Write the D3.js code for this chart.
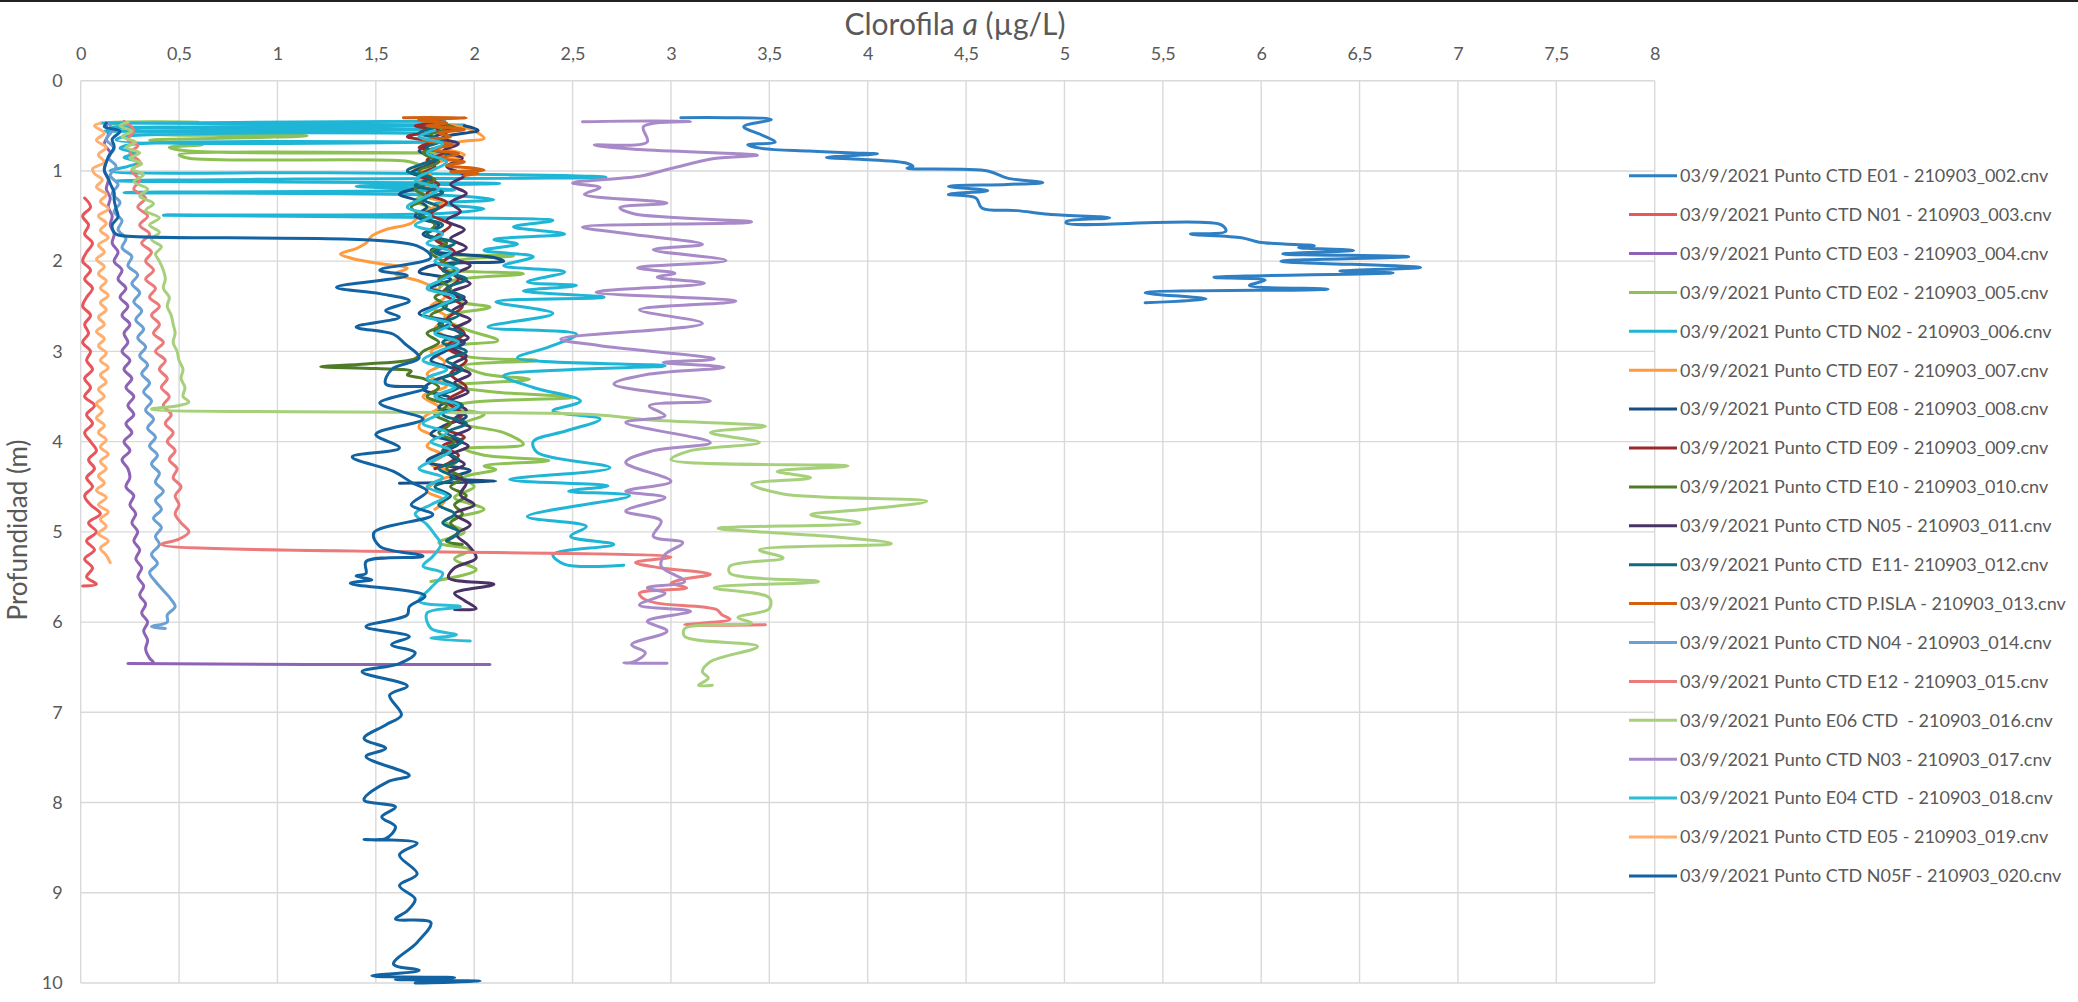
<!DOCTYPE html>
<html>
<head>
<meta charset="utf-8">
<script src="https://cdn.jsdelivr.net/npm/d3@7"></script>
<style>
  html, body { margin: 0; padding: 0; background: #fff; }
  svg { display: block; font-family: Lato, "Open Sans", sans-serif; }
  .legend text { white-space: pre; }
</style>
</head>
<body>
<svg id="chart" width="2078" height="1002"></svg>
<script>
// Tick values for both axes (depth axis is reversed, 0 at the top)
const xTickValues = [0, 0.5, 1, 1.5, 2, 2.5, 3, 3.5, 4, 4.5, 5, 5.5, 6, 6.5, 7, 7.5, 8];
const yTickValues = [0, 1, 2, 3, 4, 5, 6, 7, 8, 9, 10];

// Legend labels, one per CTD cast
const seriesNames = [
  "03/9/2021 Punto CTD E01 - 210903_002.cnv",
  "03/9/2021 Punto CTD N01 - 210903_003.cnv",
  "03/9/2021 Punto CTD E03 - 210903_004.cnv",
  "03/9/2021 Punto CTD E02 - 210903_005.cnv",
  "03/9/2021 Punto CTD N02 - 210903_006.cnv",
  "03/9/2021 Punto CTD E07 - 210903_007.cnv",
  "03/9/2021 Punto CTD E08 - 210903_008.cnv",
  "03/9/2021 Punto CTD E09 - 210903_009.cnv",
  "03/9/2021 Punto CTD E10 - 210903_010.cnv",
  "03/9/2021 Punto CTD N05 - 210903_011.cnv",
  "03/9/2021 Punto CTD  E11- 210903_012.cnv",
  "03/9/2021 Punto CTD P.ISLA - 210903_013.cnv",
  "03/9/2021 Punto CTD N04 - 210903_014.cnv",
  "03/9/2021 Punto CTD E12 - 210903_015.cnv",
  "03/9/2021 Punto E06 CTD  - 210903_016.cnv",
  "03/9/2021 Punto CTD N03 - 210903_017.cnv",
  "03/9/2021 Punto E04 CTD  - 210903_018.cnv",
  "03/9/2021 Punto CTD E05 - 210903_019.cnv",
  "03/9/2021 Punto CTD N05F - 210903_020.cnv"
];

// Profiles: [depth (m), chlorophyll a (µg/L)] in cast order
const e01 = [[0.41,3.05],[0.41,3.28],[0.43,3.51],[0.51,3.37],[0.60,3.46],[0.68,3.53],[0.71,3.39],[0.75,3.46],[0.78,3.70],[0.80,3.93],[0.81,4.05],[0.85,3.79],[0.87,3.96],[0.91,4.19],[0.95,4.23],[0.97,4.20],[1.00,4.61],[1.08,4.71],[1.13,4.89],[1.15,4.71],[1.17,4.41],[1.22,4.61],[1.26,4.41],[1.30,4.55],[1.41,4.58],[1.44,4.76],[1.48,4.92],[1.52,5.23],[1.56,5.01],[1.58,5.01],[1.60,5.80],[1.67,5.82],[1.70,5.64],[1.74,5.90],[1.79,5.99],[1.83,6.27],[1.85,6.19],[1.88,6.47],[1.92,6.11],[1.95,6.75],[2.00,6.10],[2.07,6.81],[2.11,6.40],[2.13,6.67],[2.18,5.76],[2.21,6.02],[2.27,5.94],[2.31,6.34],[2.35,5.41],[2.42,5.72],[2.46,5.41]];

const n01 = [[1.30,0.02],[1.40,0.05],[1.50,0.01],[1.60,0.04],[1.70,0.02],[1.80,0.06],[1.90,0.03],[2.00,0.01],[2.10,0.05],[2.20,0.02],[2.30,0.06],[2.40,0.03],[2.50,0.01],[2.60,0.05],[2.70,0.02],[2.80,0.04],[2.90,0.01],[3.00,0.05],[3.10,0.03],[3.20,0.06],[3.30,0.02],[3.40,0.05],[3.50,0.02],[3.60,0.07],[3.70,0.03],[3.80,0.06],[3.90,0.02],[4.00,0.05],[4.10,0.08],[4.20,0.04],[4.30,0.07],[4.40,0.03],[4.50,0.06],[4.60,0.02],[4.70,0.05],[4.80,0.10],[4.90,0.04],[5.00,0.08],[5.10,0.03],[5.20,0.07],[5.30,0.02],[5.40,0.06],[5.50,0.03],[5.58,0.08],[5.60,0.01]];

const e03 = [[0.50,0.13],[0.60,0.14],[0.70,0.12],[0.80,0.15],[0.90,0.13],[1.00,0.12],[1.10,0.14],[1.20,0.13],[1.30,0.15],[1.40,0.14],[1.50,0.16],[1.60,0.15],[1.70,0.17],[1.80,0.16],[1.90,0.19],[2.00,0.17],[2.10,0.21],[2.20,0.19],[2.30,0.23],[2.40,0.20],[2.50,0.24],[2.60,0.21],[2.70,0.25],[2.80,0.22],[2.90,0.24],[3.00,0.21],[3.10,0.25],[3.20,0.22],[3.30,0.26],[3.40,0.23],[3.50,0.27],[3.60,0.24],[3.70,0.27],[3.80,0.23],[3.90,0.26],[4.00,0.22],[4.10,0.25],[4.20,0.21],[4.30,0.24],[4.40,0.25],[4.50,0.23],[4.60,0.27],[4.70,0.25],[4.80,0.28],[4.90,0.26],[5.00,0.29],[5.10,0.27],[5.20,0.30],[5.30,0.28],[5.40,0.31],[5.50,0.29],[5.60,0.32],[5.70,0.30],[5.80,0.33],[5.90,0.31],[6.00,0.34],[6.10,0.32],[6.20,0.34],[6.30,0.33],[6.40,0.35],[6.45,0.37],[6.46,0.24],[6.47,2.08]];

const e02 = [[0.46,0.60],[0.465,0.12],[0.50,0.22],[0.55,0.30],[0.58,0.25],[0.61,1.15],[0.63,0.90],[0.66,0.35],[0.69,0.50],[0.71,0.62],[0.74,0.45],[0.78,0.55],[0.80,1.88],[0.82,0.50],[0.86,0.55],[0.89,1.65],[0.93,1.72],[0.98,1.78],[1.03,1.70],[1.10,1.76],[1.18,1.68],[1.25,1.74],[1.33,1.70],[1.42,1.78],[1.50,1.72],[1.60,1.82],[1.70,1.76],[1.80,1.86],[1.90,1.80],[1.94,2.20],[2.00,1.90],[2.08,1.85],[2.14,2.25],[2.22,1.88],[2.32,1.82],[2.45,1.92],[2.51,2.08],[2.62,1.85],[2.75,1.95],[2.88,2.12],[2.95,1.88],[3.05,1.95],[3.10,2.32],[3.16,1.95],[3.25,2.05],[3.31,2.28],[3.38,1.88],[3.45,2.10],[3.51,2.50],[3.56,2.0],[3.62,1.85],[3.70,2.05],[3.80,1.95],[3.90,2.15],[4.03,2.25],[4.08,1.95],[4.15,2.05],[4.21,2.38],[4.27,2.05],[4.31,2.11],[4.40,1.95],[4.50,2.00],[4.62,1.90],[4.75,2.05],[4.88,1.85],[5.00,1.95],[5.12,1.82],[5.20,1.98],[5.30,1.90],[5.42,2.01],[5.55,1.78]];

const n02 = [[0.45,1.85],[0.47,0.10],[0.49,1.95],[0.52,0.15],[0.535,1.92],[0.56,0.12],[0.58,1.80],[0.62,0.22],[0.66,0.18],[0.68,1.92],[0.71,0.25],[0.75,0.20],[0.80,0.28],[0.85,0.22],[0.90,0.30],[0.95,0.24],[1.00,0.15],[1.02,1.25],[1.05,2.45],[1.07,2.67],[1.09,1.10],[1.11,0.18],[1.14,2.13],[1.17,1.40],[1.21,1.90],[1.24,0.22],[1.27,1.85],[1.32,2.10],[1.36,1.80],[1.42,2.05],[1.47,1.85],[1.49,0.42],[1.52,1.90],[1.55,2.40],[1.62,2.20],[1.70,2.46],[1.76,2.10],[1.81,2.22],[1.88,2.05],[1.95,2.30],[2.05,2.15],[2.12,2.46],[2.23,2.27],[2.27,2.52],[2.33,2.25],[2.40,2.66],[2.45,2.11],[2.58,2.40],[2.73,2.07],[2.81,2.52],[2.95,2.38],[3.07,2.22],[3.16,2.97],[3.20,2.50],[3.27,2.15],[3.40,2.30],[3.55,2.54],[3.66,2.40],[3.75,2.64],[3.88,2.47],[4.00,2.30],[4.12,2.32],[4.29,2.69],[4.42,2.18],[4.49,2.68],[4.55,2.48],[4.60,2.79],[4.83,2.27],[4.94,2.57],[5.05,2.49],[5.14,2.71],[5.25,2.40],[5.36,2.46],[5.37,2.76]];

const e07 = [[0.48,1.85],[0.52,1.95],[0.58,2.02],[0.64,2.05],[0.68,1.92],[0.75,1.86],[0.82,1.95],[0.90,1.82],[0.97,1.70],[1.05,1.78],[1.12,1.72],[1.20,1.80],[1.28,1.75],[1.35,1.85],[1.42,1.78],[1.50,1.72],[1.58,1.68],[1.65,1.55],[1.72,1.48],[1.80,1.45],[1.86,1.40],[1.92,1.32],[1.97,1.38],[2.02,1.50],[2.08,1.66],[2.14,1.60],[2.22,1.72],[2.30,1.80],[2.40,1.85],[2.50,1.78],[2.62,1.86],[2.75,1.80],[2.88,1.88],[3.00,1.78],[3.12,1.85],[3.25,1.76],[3.38,1.86],[3.50,1.74],[3.62,1.82],[3.72,1.75],[3.85,1.72],[3.95,1.80],[4.05,1.76],[4.15,1.84],[4.25,1.78],[4.35,1.90],[4.45,1.80],[4.55,1.76],[4.65,1.85],[4.75,1.80]];

const e08 = [[0.50,1.95],[0.55,2.02],[0.62,1.85],[0.70,1.78],[0.78,1.72],[0.86,1.82],[0.95,1.75],[1.02,1.68],[1.10,1.80],[1.18,1.72],[1.26,1.62],[1.32,1.70],[1.40,1.76],[1.50,1.70],[1.60,1.82],[1.70,1.74],[1.80,1.86],[1.88,1.78],[1.96,2.10],[2.00,2.15],[2.04,1.80],[2.12,1.72],[2.20,1.88],[2.30,1.78],[2.40,1.95],[2.48,1.82],[2.58,1.72],[2.68,1.88],[2.78,1.80],[2.90,1.95],[3.00,1.85],[3.10,1.78],[3.22,1.92],[3.32,1.80],[3.42,1.74],[3.52,1.88],[3.62,1.82],[3.72,1.96],[3.82,1.85],[3.92,1.78],[4.02,1.92],[4.12,1.84],[4.22,1.76],[4.32,1.98],[4.40,1.88],[4.44,2.11],[4.46,1.62]];

const e09 = [[0.43,1.72],[0.46,1.85],[0.50,1.70],[0.55,1.82],[0.62,1.66],[0.68,1.78],[0.74,1.72],[0.80,1.85],[0.88,1.76],[0.95,1.80],[1.05,1.72],[1.15,1.82],[1.25,1.76],[1.35,1.86],[1.48,1.78],[1.60,1.88],[1.75,1.80],[1.90,1.90],[2.05,1.82],[2.20,1.92],[2.35,1.84],[2.50,1.94],[2.65,1.86],[2.80,1.95],[2.95,1.86],[3.10,1.96],[3.25,1.88],[3.40,1.96],[3.55,1.86],[3.70,1.94],[3.85,1.85],[3.95,1.95],[4.05,1.84],[4.15,1.92],[4.25,1.86],[4.30,1.80]];

const e10 = [[0.47,1.80],[0.52,1.90],[0.60,1.78],[0.70,1.86],[0.80,1.74],[0.90,1.82],[1.00,1.72],[1.10,1.80],[1.20,1.70],[1.30,1.76],[1.40,1.68],[1.50,1.74],[1.60,1.80],[1.70,1.76],[1.80,1.86],[1.90,1.78],[2.00,1.84],[2.10,1.90],[2.20,1.82],[2.30,1.88],[2.40,1.80],[2.50,1.86],[2.60,1.78],[2.70,1.84],[2.80,1.76],[2.90,1.82],[3.00,1.74],[3.08,1.70],[3.14,1.45],[3.17,1.22],[3.19,1.50],[3.22,1.68],[3.26,1.66],[3.30,1.74],[3.40,1.82],[3.50,1.76],[3.60,1.86],[3.70,1.80],[3.80,1.88],[3.90,1.82],[4.00,1.90],[4.10,1.84],[4.20,1.92],[4.30,1.86],[4.40,1.94],[4.50,1.88],[4.60,1.96],[4.70,1.90],[4.80,1.94],[4.90,1.88],[5.00,1.92],[5.10,1.86],[5.14,1.94]];

const n05 = [[0.48,1.78],[0.55,1.88],[0.62,1.80],[0.70,1.92],[0.78,1.84],[0.86,1.94],[0.95,1.86],[1.05,1.95],[1.15,1.88],[1.25,1.96],[1.35,1.88],[1.45,1.93],[1.55,1.86],[1.65,1.95],[1.75,1.88],[1.85,1.96],[1.95,1.88],[2.05,1.98],[2.15,1.90],[2.25,1.98],[2.35,1.88],[2.45,1.96],[2.55,1.89],[2.65,1.98],[2.75,1.90],[2.85,1.97],[2.95,1.88],[3.05,1.96],[3.15,1.89],[3.25,1.98],[3.35,1.90],[3.45,1.97],[3.55,1.88],[3.65,1.96],[3.75,1.90],[3.85,1.98],[3.95,1.89],[4.05,1.97],[4.15,1.88],[4.25,1.95],[4.35,1.87],[4.45,1.96],[4.59,1.93],[4.70,2.00],[4.80,1.90],[4.92,1.98],[5.03,1.91],[5.15,1.97],[5.29,2.01],[5.40,1.90],[5.51,1.87],[5.58,2.10],[5.68,1.90],[5.76,1.95],[5.85,2.01],[5.86,1.90]];

const e11 = [[0.52,1.80],[0.58,1.72],[0.66,1.84],[0.74,1.76],[0.82,1.86],[0.92,1.74],[1.00,1.66],[1.08,1.78],[1.16,1.70],[1.24,1.84],[1.32,1.74],[1.40,1.82],[1.50,1.72],[1.60,1.84],[1.70,1.76],[1.80,1.90],[1.90,1.80],[2.00,1.92],[2.10,1.84],[2.20,1.96],[2.30,1.86],[2.40,1.94],[2.50,1.84],[2.60,1.92],[2.70,1.82],[2.80,1.94],[2.90,1.84],[3.00,1.96],[3.10,1.86],[3.20,1.94],[3.30,1.84],[3.40,1.92],[3.50,1.82],[3.60,1.94],[3.70,1.84],[3.80,1.96],[3.90,1.86],[4.00,1.94],[4.10,1.84],[4.20,1.92],[4.30,1.82],[4.40,1.90],[4.50,1.80],[4.60,1.88],[4.70,1.82],[4.80,1.90],[4.90,1.84],[5.00,1.92],[5.10,1.86]];

const pIsla = [[0.41,1.64],[0.41,1.96],[0.44,1.72],[0.47,1.86],[0.50,1.76],[0.54,1.95],[0.58,1.82],[0.62,1.88],[0.66,1.74],[0.71,1.89],[0.76,1.78],[0.81,1.92],[0.86,1.83],[0.90,1.95],[0.94,1.86],[0.97,2.00],[0.99,2.05],[1.01,1.88],[1.03,2.02],[1.05,1.95]];

const n04 = [[0.47,0.14],[0.55,0.16],[0.65,0.13],[0.75,0.17],[0.85,0.14],[0.95,0.18],[1.05,0.15],[1.15,0.19],[1.25,0.16],[1.35,0.20],[1.45,0.17],[1.55,0.21],[1.65,0.19],[1.75,0.23],[1.85,0.21],[1.95,0.26],[2.05,0.24],[2.15,0.29],[2.25,0.26],[2.35,0.30],[2.45,0.27],[2.55,0.31],[2.65,0.28],[2.75,0.32],[2.85,0.29],[2.95,0.33],[3.05,0.30],[3.15,0.34],[3.25,0.31],[3.35,0.35],[3.45,0.32],[3.55,0.36],[3.65,0.33],[3.75,0.37],[3.85,0.34],[3.95,0.38],[4.05,0.35],[4.15,0.39],[4.25,0.36],[4.35,0.40],[4.45,0.38],[4.55,0.42],[4.65,0.38],[4.75,0.41],[4.85,0.37],[4.95,0.41],[5.05,0.38],[5.14,0.40],[5.25,0.36],[5.35,0.39],[5.45,0.35],[5.55,0.38],[5.65,0.42],[5.75,0.46],[5.83,0.48],[5.92,0.44],[6.00,0.44],[6.05,0.36],[6.07,0.43]];

const e12 = [[0.45,0.22],[0.55,0.27],[0.65,0.24],[0.72,0.29],[0.80,0.25],[0.90,0.30],[1.00,0.26],[1.10,0.30],[1.20,0.27],[1.30,0.33],[1.40,0.29],[1.50,0.34],[1.60,0.30],[1.70,0.35],[1.80,0.31],[1.90,0.36],[2.00,0.33],[2.10,0.37],[2.20,0.33],[2.30,0.38],[2.40,0.35],[2.50,0.40],[2.60,0.36],[2.70,0.40],[2.80,0.37],[2.90,0.42],[3.00,0.38],[3.10,0.43],[3.20,0.40],[3.30,0.44],[3.40,0.41],[3.50,0.45],[3.60,0.42],[3.70,0.46],[3.80,0.43],[3.90,0.47],[4.00,0.44],[4.10,0.48],[4.20,0.45],[4.30,0.49],[4.40,0.47],[4.50,0.51],[4.60,0.48],[4.70,0.50],[4.80,0.48],[4.90,0.51],[5.00,0.55],[5.08,0.50],[5.14,0.41],[5.28,3.00],[5.34,2.82],[5.40,2.95],[5.47,3.20],[5.53,3.05],[5.57,3.00],[5.62,3.08],[5.68,2.84],[5.74,2.86],[5.79,2.93],[5.86,3.23],[5.92,3.26],[5.97,3.30],[6.03,3.07],[6.03,3.48]];

const e06 = [[0.46,0.24],[0.50,0.20],[0.56,0.26],[0.62,0.21],[0.68,0.28],[0.74,0.23],[0.80,0.30],[0.86,0.25],[0.92,0.31],[0.98,0.26],[1.04,0.32],[1.12,0.27],[1.20,0.34],[1.28,0.30],[1.36,0.37],[1.44,0.33],[1.52,0.40],[1.60,0.35],[1.68,0.40],[1.76,0.36],[1.84,0.41],[1.92,0.38],[2.00,0.40],[2.10,0.42],[2.20,0.43],[2.30,0.42],[2.40,0.45],[2.50,0.44],[2.60,0.46],[2.70,0.47],[2.80,0.48],[2.90,0.47],[3.00,0.49],[3.10,0.50],[3.20,0.52],[3.30,0.51],[3.40,0.53],[3.50,0.52],[3.56,0.55],[3.60,0.50],[3.64,0.36],[3.70,2.60],[3.76,2.90],[3.83,3.48],[3.90,3.20],[4.01,3.45],[4.10,3.10],[4.20,3.00],[4.27,3.90],[4.33,3.54],[4.40,3.71],[4.47,3.41],[4.58,3.57],[4.66,4.30],[4.75,3.99],[4.81,3.71],[4.90,3.96],[4.96,3.24],[5.05,3.80],[5.13,4.12],[5.20,3.45],[5.29,3.57],[5.38,3.30],[5.46,3.30],[5.55,3.75],[5.62,3.22],[5.73,3.50],[5.85,3.50],[5.95,3.34],[6.01,3.41],[6.07,3.07],[6.16,3.07],[6.27,3.44],[6.44,3.20],[6.55,3.16],[6.62,3.19],[6.70,3.14],[6.70,3.21]];

const n03 = [[0.455,2.55],[0.45,3.10],[0.51,2.86],[0.677,2.88],[0.714,2.61],[0.763,2.84],[0.826,3.44],[0.863,3.22],[0.974,3.00],[1.059,2.84],[1.133,2.50],[1.185,2.64],[1.259,2.56],[1.355,2.98],[1.407,2.74],[1.474,2.81],[1.566,3.41],[1.622,2.55],[1.696,2.78],[1.814,3.16],[1.874,2.91],[1.992,3.28],[2.074,2.83],[2.133,3.02],[2.177,2.93],[2.244,3.17],[2.344,2.62],[2.444,3.33],[2.54,2.84],[2.689,3.16],[2.863,2.44],[2.937,2.64],[3.085,3.22],[3.122,2.96],[3.177,3.27],[3.251,2.89],[3.363,2.71],[3.548,3.20],[3.603,2.89],[3.714,2.97],[3.788,2.77],[4.011,3.20],[4.10,2.91],[4.23,2.77],[4.44,3.00],[4.55,2.77],[4.62,2.97],[4.77,2.77],[4.88,2.95],[5.05,2.91],[5.12,3.06],[5.25,2.97],[5.38,2.95],[5.55,3.07],[5.62,2.88],[5.68,2.97],[5.81,2.84],[5.88,3.10],[5.99,2.88],[6.10,2.98],[6.25,2.80],[6.34,2.87],[6.44,2.81],[6.455,2.76],[6.455,2.98]];

const e04 = [[0.55,1.80],[0.62,1.72],[0.70,1.84],[0.80,1.76],[0.90,1.86],[1.00,1.78],[1.10,1.70],[1.20,1.82],[1.30,1.74],[1.40,1.66],[1.50,1.78],[1.60,1.70],[1.70,1.84],[1.80,1.76],[1.90,1.88],[2.00,1.80],[2.10,1.92],[2.20,1.84],[2.30,1.76],[2.40,1.90],[2.50,1.82],[2.60,1.74],[2.70,1.88],[2.80,1.80],[2.90,1.92],[3.00,1.82],[3.10,1.74],[3.20,1.86],[3.30,1.76],[3.40,1.90],[3.50,1.80],[3.60,1.92],[3.70,1.82],[3.80,1.74],[3.90,1.86],[4.00,1.78],[4.10,1.88],[4.20,1.80],[4.30,1.72],[4.40,1.84],[4.50,1.76],[4.60,1.86],[4.70,1.78],[4.80,1.70],[4.92,1.76],[5.03,1.80],[5.14,1.83],[5.27,1.79],[5.38,1.74],[5.46,1.84],[5.62,1.78],[5.77,1.72],[5.83,1.93],[5.90,1.76],[6.07,1.78],[6.14,1.91],[6.18,1.78],[6.21,1.98]];

const e05 = [[0.47,0.10],[0.50,0.07],[0.58,0.12],[0.66,0.08],[0.74,0.13],[0.82,0.09],[0.90,0.12],[0.98,0.06],[1.03,0.07],[1.10,0.11],[1.18,0.08],[1.26,0.13],[1.34,0.10],[1.42,0.14],[1.50,0.09],[1.58,0.13],[1.66,0.10],[1.74,0.14],[1.82,0.09],[1.90,0.12],[1.98,0.08],[2.06,0.12],[2.14,0.09],[2.22,0.13],[2.30,0.10],[2.38,0.14],[2.46,0.10],[2.54,0.13],[2.62,0.09],[2.70,0.12],[2.78,0.08],[2.86,0.12],[2.94,0.09],[3.02,0.13],[3.10,0.10],[3.18,0.14],[3.26,0.10],[3.34,0.13],[3.42,0.09],[3.50,0.12],[3.58,0.08],[3.66,0.11],[3.74,0.08],[3.82,0.12],[3.90,0.09],[3.98,0.13],[4.06,0.10],[4.14,0.14],[4.22,0.10],[4.30,0.13],[4.38,0.09],[4.46,0.12],[4.54,0.08],[4.62,0.13],[4.70,0.09],[4.78,0.14],[4.86,0.10],[4.94,0.13],[5.02,0.09],[5.10,0.14],[5.18,0.10],[5.26,0.13],[5.34,0.15]];

const n05f = [[0.47,0.13],[0.51,0.12],[0.56,0.20],[0.65,0.16],[0.73,0.17],[0.85,0.14],[0.99,0.12],[1.08,0.14],[1.14,0.15],[1.24,0.17],[1.32,0.17],[1.42,0.18],[1.51,0.19],[1.60,0.16],[1.68,0.17],[1.71,0.19],[1.83,1.71],[1.96,1.78],[2.10,1.52],[2.16,1.66],[2.29,1.30],[2.36,1.52],[2.44,1.67],[2.55,1.55],[2.62,1.62],[2.73,1.40],[2.81,1.59],[2.92,1.65],[3.07,1.72],[3.20,1.58],[3.36,1.55],[3.40,1.76],[3.57,1.52],[3.66,1.62],[3.75,1.74],[3.92,1.50],[4.07,1.62],[4.17,1.38],[4.33,1.59],[4.45,1.68],[4.55,1.76],[4.70,1.68],[4.81,1.79],[5.01,1.49],[5.16,1.52],[5.27,1.74],[5.33,1.45],[5.46,1.45],[5.49,1.40],[5.53,1.48],[5.57,1.37],[5.71,1.75],[5.83,1.67],[5.92,1.66],[6.05,1.45],[6.16,1.67],[6.25,1.58],[6.34,1.70],[6.46,1.62],[6.55,1.43],[6.71,1.66],[6.81,1.57],[7.03,1.63],[7.14,1.55],[7.29,1.44],[7.40,1.55],[7.49,1.45],[7.70,1.67],[7.77,1.56],[7.97,1.44],[8.05,1.60],[8.16,1.53],[8.27,1.60],[8.40,1.55],[8.41,1.44],[8.45,1.71],[8.58,1.62],[8.79,1.71],[8.92,1.62],[9.07,1.70],[9.20,1.66],[9.29,1.60],[9.33,1.78],[9.55,1.71],[9.79,1.59],[9.86,1.72],[9.92,1.48],[9.94,1.90],[9.96,1.60],[9.98,2.03],[10.0,1.70]];

const seriesData = [e01, n01, e03, e02, n02, e07, e08, e09, e10, n05, e11, pIsla, n04, e12, e06, n03, e04, e05, n05f];

const seriesColors = ["#2e7fc4", "#e8555a", "#8e63b5", "#8dc153", "#1fb5d6", "#ff9a3d", "#164f86", "#9a2a2a", "#4f7a28", "#4a3266", "#0f6a80", "#d2600e", "#6aa0d4", "#ec7a7a", "#a6d07c", "#a98ac8", "#2bbdd7", "#ffb070", "#1163a3"];

// ---- layout ----
const W = 2078, H = 1002;
const plot = { left: 80.7, right: 1654.7, top: 80.7, bottom: 983 };
const textColor = "#595959";
const gridColor = "#d9d9d9";

const svg = d3.select("#chart");

const x = d3.scaleLinear().domain([0, 8]).range([plot.left, plot.right]);
const y = d3.scaleLinear().domain([0, 10]).range([plot.top, plot.bottom]);

const locale = d3.formatLocale({ decimal: ",", thousands: ".", grouping: [3], currency: ["", ""] });
const fmt = locale.format("~g");

// frame line along the top edge
svg.append("line")
  .attr("x1", 0).attr("x2", W).attr("y1", 1).attr("y2", 1)
  .attr("stroke", "#222").attr("stroke-width", 2);

// gridlines
const grid = svg.append("g").attr("class", "grid");
grid.selectAll("line.v").data(xTickValues).join("line")
  .attr("class", "v")
  .attr("x1", d => x(d)).attr("x2", d => x(d))
  .attr("y1", plot.top).attr("y2", plot.bottom)
  .attr("stroke", gridColor).attr("stroke-width", 1.4);
grid.selectAll("line.h").data(yTickValues).join("line")
  .attr("class", "h")
  .attr("x1", plot.left).attr("x2", plot.right)
  .attr("y1", d => y(d)).attr("y2", d => y(d))
  .attr("stroke", gridColor).attr("stroke-width", 1.4);

// axes (labels only)
const xAxis = svg.append("g")
  .attr("transform", `translate(0,${plot.top})`)
  .call(d3.axisTop(x).tickValues(xTickValues).tickFormat(fmt).tickSize(0).tickPadding(21));
const yAxis = svg.append("g")
  .attr("transform", `translate(${plot.left},0)`)
  .call(d3.axisLeft(y).tickValues(yTickValues).tickFormat(fmt).tickSize(0).tickPadding(18));
[xAxis, yAxis].forEach(g => {
  g.select(".domain").remove();
  g.selectAll("text")
    .attr("fill", textColor)
    .style("font-family", "Lato, sans-serif")
    .style("font-size", "18px");
});

// axis titles
const title = svg.append("text")
  .attr("x", 955).attr("y", 35)
  .attr("text-anchor", "middle")
  .attr("fill", textColor)
  .style("font-size", "30px");
title.append("tspan").text("Clorofila ");
title.append("tspan").style("font-style", "italic").text("a");
title.append("tspan").text(" (µg/L)");

svg.append("text")
  .attr("transform", "translate(27,530) rotate(-90)")
  .attr("text-anchor", "middle")
  .attr("fill", textColor)
  .style("font-size", "26px")
  .text("Profundidad (m)");

// profiles
const line = d3.line()
  .x(d => x(d[1]))
  .y(d => y(d[0]))
  .curve(d3.curveCatmullRom.alpha(0.5));

const series = seriesData.map((data, i) => ({ name: seriesNames[i], color: seriesColors[i], data }));

svg.append("g").attr("class", "profiles")
  .selectAll("path").data(series).join("path")
  .attr("d", d => line(d.data))
  .attr("fill", "none")
  .attr("stroke", d => d.color)
  .attr("stroke-width", 3)
  .attr("stroke-linejoin", "round")
  .attr("stroke-linecap", "round");

// legend
const legend = svg.append("g").attr("class", "legend");
const rowY = i => 175.7 + i * 38.9;
const rows = legend.selectAll("g").data(series).join("g")
  .attr("transform", (d, i) => `translate(0,${rowY(i)})`);
rows.append("line")
  .attr("x1", 1629).attr("x2", 1677)
  .attr("stroke", d => d.color).attr("stroke-width", 3);
rows.append("text")
  .attr("x", 1680).attr("y", 0).attr("dy", "0.35em")
  .attr("fill", textColor)
  .style("font-size", "18px")
  .text(d => d.name);
</script>
</body>
</html>
